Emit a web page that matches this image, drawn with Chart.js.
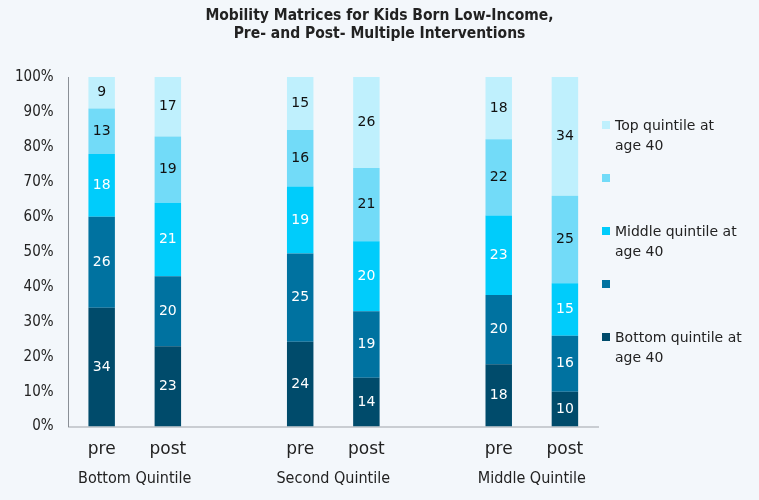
<!DOCTYPE html>
<html>
<head>
<meta charset="utf-8">
<script src="https://cdn.jsdelivr.net/npm/chart.js@4.4.1/dist/chart.umd.min.js"></script>
<style>
  html, body { margin: 0; padding: 0; background: #f3f7fb; }
  #wrap { position: relative; width: 759px; height: 500px; }
  #title { position: absolute; left: 0; top: 6px; width: 759px; text-align: center;
           font-family: 'DejaVu Sans Condensed', 'DejaVu Sans', sans-serif; font-weight: bold;
           font-size: 15.5px; line-height: 18px; color: #222; }
  #legend { position: absolute; left: 600px; top: 115px; width: 159px;
            font-family: 'DejaVu Sans', sans-serif; font-size: 14px; color: #222; }
  .item { position: relative; height: 53px; padding-left: 15px; line-height: 20px; white-space: pre-line; }
  .box { position: absolute; left: 2px; top: 6px; width: 8px; height: 8px; }
</style>
</head>
<body>
<div id="wrap">
  <canvas id="chart" width="759" height="500"></canvas>
  <div id="title">Mobility Matrices for Kids Born Low-Income,<br>Pre- and Post- Multiple Interventions</div>
  <div id="legend"></div>
</div>
<script>
// Categories and groups
const categories = ['pre', 'post', '', 'pre', 'post', '', 'pre', 'post'];
const groups = ['Bottom Quintile', 'Second Quintile', 'Middle Quintile'];

// Share of kids ending in each quintile at age 40 (bottom to top)
const bottomQ = [34, 23, null, 24, 14, null, 18, 10];
const secondQ = [26, 20, null, 25, 19, null, 20, 16];
const middleQ = [18, 21, null, 19, 20, null, 23, 15];
const fourthQ = [13, 19, null, 16, 21, null, 22, 25];
const topQ    = [9, 17, null, 15, 26, null, 18, 34];

const seriesNames = ['Bottom quintile at\nage 40', '', 'Middle quintile at\nage 40', '', 'Top quintile at\nage 40'];
const seriesColors = ['#004b6b', '#0072a0', '#00ccfb', '#72dbf8', '#bff0fd'];
const labelColors = ['#ffffff', '#ffffff', '#ffffff', '#111111', '#111111'];

const allSeries = [bottomQ, secondQ, middleQ, fourthQ, topQ];

// 100% stacking: each column is scaled by its own total
const totals = categories.map((c, i) => allSeries.reduce((s, arr) => s + (arr[i] || 0), 0));

const font = "'DejaVu Sans', sans-serif";
const condensed = "'DejaVu Sans Condensed', 'DejaVu Sans', sans-serif";

const datasets = allSeries.map((arr, k) => ({
    label: seriesNames[k],
    data: arr.map((v, i) => v == null ? null : v / totals[i] * 100),
    raw: arr,
    backgroundColor: seriesColors[k],
    borderWidth: 0,
    barPercentage: 0.8,
    categoryPercentage: 0.5
}));

// Value labels inside the segments
const segmentLabels = {
    id: 'segmentLabels',
    afterDatasetsDraw(chart) {
        const ctx = chart.ctx;
        ctx.save();
        ctx.font = '14px ' + font;
        ctx.textAlign = 'center';
        ctx.textBaseline = 'middle';
        chart.data.datasets.forEach((ds, k) => {
            chart.getDatasetMeta(k).data.forEach((bar, i) => {
                if (ds.raw[i] == null) return;
                ctx.fillStyle = labelColors[k];
                ctx.fillText(ds.raw[i], bar.x, (bar.y + bar.base) / 2);
            });
        });
        ctx.restore();
    }
};

// Group names centred under each pre/post pair
const groupLabels = {
    id: 'groupLabels',
    afterDraw(chart) {
        const ctx = chart.ctx;
        const x = chart.scales.x;
        ctx.save();
        ctx.font = '16px ' + condensed;
        ctx.fillStyle = '#222';
        ctx.textAlign = 'center';
        ctx.textBaseline = 'middle';
        groups.forEach((g, j) => {
            const cx = (x.getPixelForValue(3 * j) + x.getPixelForValue(3 * j + 1)) / 2;
            ctx.fillText(g, cx, chart.chartArea.bottom + 52);
        });
        ctx.restore();
    }
};

new Chart(document.getElementById('chart'), {
    type: 'bar',
    data: { labels: categories, datasets: datasets },
    options: {
        responsive: false,
        animation: false,
        layout: { padding: { left: 0, right: 161, top: 77, bottom: 27 } },
        plugins: {
            legend: { display: false },
            tooltip: { enabled: false }
        },
        scales: {
            x: {
                stacked: true,
                grid: { display: false, drawTicks: false },
                border: { color: '#c9cdd2', width: 2 },
                ticks: { color: '#222', font: { family: font, size: 17 }, padding: 13 }
            },
            y: {
                stacked: true,
                min: 0,
                max: 100,
                grid: { display: false, drawTicks: false },
                border: { color: '#8a8f96', width: 1 },
                ticks: {
                    stepSize: 10,
                    color: '#222',
                    font: { family: condensed, size: 15 },
                    padding: 15,
                    callback: (v) => v + '%'
                }
            }
        }
    },
    plugins: [segmentLabels, groupLabels]
});

// Legend, top series first
const legend = document.getElementById('legend');
for (let k = allSeries.length - 1; k >= 0; k--) {
    const item = document.createElement('div');
    item.className = 'item';
    const box = document.createElement('span');
    box.className = 'box';
    box.style.background = seriesColors[k];
    item.appendChild(box);
    item.appendChild(document.createTextNode(seriesNames[k]));
    legend.appendChild(item);
}
</script>
</body>
</html>
